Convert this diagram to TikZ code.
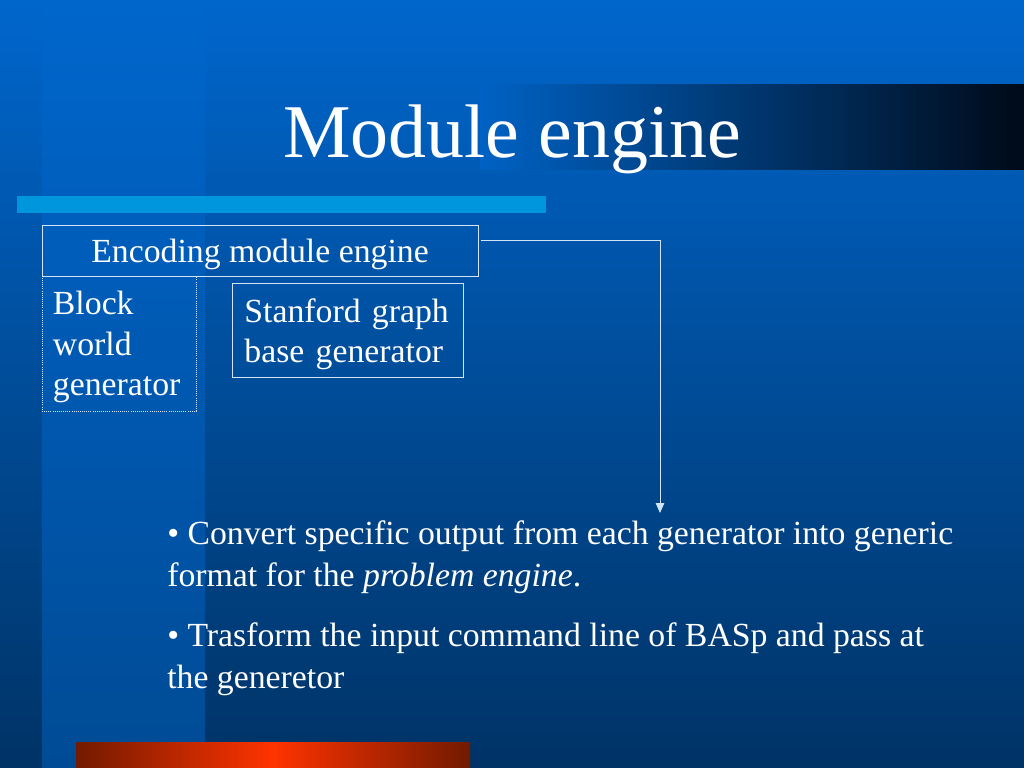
\documentclass[tikz,border=0pt]{standalone}
\usepackage{fontspec}
\setmainfont{Liberation Serif}
\usetikzlibrary{arrows.meta}
\definecolor{bgtop}{HTML}{0066CC}
\definecolor{bgbot}{HTML}{003366}
\definecolor{bandbot}{HTML}{004B95}
\definecolor{barblue}{HTML}{0096DE}
\definecolor{edge}{HTML}{D2E4F6}
\definecolor{rustdark}{HTML}{721A00}
\definecolor{rustlite}{HTML}{FF3300}
\definecolor{titledark}{HTML}{000A18}
\begin{document}
\begin{tikzpicture}[x=0.025cm,y=-0.025cm]
\tikzset{
  box/.style={draw=edge,line width=0.6pt,text=white,font=\fontsize{24}{28.45}\selectfont},
  boxE/.prefix style={box,minimum width=10.9cm,minimum height=1.275cm,inner sep=0pt,text height=0.575cm,text depth=0pt},
  boxB/.prefix style={box,dash pattern=on 0.6pt off 0.9pt,minimum width=3.85cm,minimum height=3.375cm,inner xsep=0.275cm,text width=3.3cm,align=left,text height=0.575cm,text depth=2cm},
  boxS/.prefix style={box,minimum width=5.775cm,minimum height=2.35cm,inner xsep=0.3cm,text width=5.175cm,align=left,text height=0.575cm,text depth=0.975cm},
  ttl/.style={text=white,inner sep=0pt,anchor=base,font=\fontsize{54}{60}\selectfont},
  txt/.style={text=white,inner sep=0pt,anchor=base west,align=left,font=\fontsize{24}{29.5}\selectfont},
  conn/.style={draw=edge,line width=0.7pt,-{Triangle[length=7pt,width=6pt]}},
}

\useasboundingbox (0,0) rectangle (1024,768);

%% background
\shade[top color=bgtop,bottom color=bgbot] (0,0) rectangle (1024,768);
\shade[top color=bgtop,bottom color=bandbot] (42,0) rectangle (205,768);

%% title band
\shade[left color=bgtop!96!black,right color=titledark] (480,85) rectangle (1024,170);
\node[ttl] (title) at (512,158) {Module engine};

%% bars
\fill[barblue] (17,196) rectangle (546,213);
\shade[left color=rustdark,right color=rustdark,middle color=rustlite] (76,742) rectangle (470,768);

%% boxes
\node[boxE] (encbox) at (260,250.5) {Encoding module engine};
\node[boxB] (blockbox) at (119,343.5) {Block\\world\\generator};
\node[boxS] (stanbox) at (348,330) {Stanford graph\\base generator};

%% connector
\coordinate (tip) at (660,513);
\draw[conn] ([xshift=0.06cm,yshift=0.26cm]encbox.east) -| (tip);

%% bullets
\node[txt] (conv) at (167,586) {• Convert specific output from each generator into generic\\format for the \textit{problem engine}.};
\node[txt] (trans) at (167,688) {• Trasform the input command line of BASp and pass at\\the generetor};
\end{tikzpicture}
\end{document}
